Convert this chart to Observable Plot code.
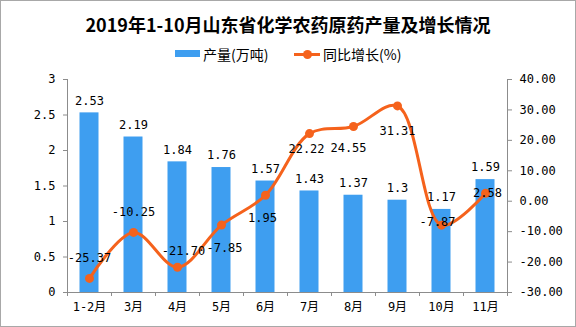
<!DOCTYPE html>
<html>
<head>
<meta charset="utf-8">
<script src="https://cdn.jsdelivr.net/npm/d3@7"></script>
<script src="https://cdn.jsdelivr.net/npm/@observablehq/plot@0.6"></script>
<style>
  html, body { margin: 0; padding: 0; background: #fff; }
  #wrap { position: relative; width: 576px; height: 327px; overflow: hidden; background: #fff; }
  #title { position: absolute; left: 0; top: 13px; width: 576px; text-align: center;
           font: bold 18px "Noto Sans CJK SC", sans-serif; color: #000; line-height: 22px; }
  #legend { position: absolute; left: 0; top: 45px; width: 576px; height: 20px;
            font: 14px "Noto Sans CJK SC", sans-serif; color: #000; }
  .sw { position: absolute; }
  .lt { position: absolute; top: 0; line-height: 19px; white-space: nowrap; }
  #chart { position: absolute; left: 0; top: 70px; }
  #border { position: absolute; left: 0; top: 0; right: 0; bottom: 0; border: 1px solid #a8a8a8;
            box-sizing: border-box; pointer-events: none; }
</style>
</head>
<body>
<div id="wrap">
  <div id="title">2019年1-10月山东省化学农药原药产量及增长情况</div>
  <div id="legend">
    <div class="sw" style="left:175px;top:5px;width:25px;height:7px;background:#3E9EF0;"></div>
    <div class="lt" style="left:203px;">产量(万吨)</div>
    <div class="sw" style="left:294px;top:8px;width:26px;height:3px;background:#F5621C;"></div>
    <div class="sw" style="left:302.5px;top:5px;width:9px;height:9px;border-radius:50%;background:#F5621C;"></div>
    <div class="lt" style="left:323px;">同比增长(%)</div>
  </div>
  <div id="chart"></div>
  <div id="border"></div>
</div>
<script>
const categories = ["1-2月", "3月", "4月", "5月", "6月", "7月", "8月", "9月", "10月", "11月"];
const output = [2.53, 2.19, 1.84, 1.76, 1.57, 1.43, 1.37, 1.3, 1.17, 1.59];
const growth = [-25.37, -10.25, -21.70, -7.85, 1.95, 22.22, 24.55, 31.31, -7.87, 2.58];
const growthText = ["-25.37", "-10.25", "-21.70", "-7.85", "1.95", "22.22", "24.55", "31.31", "-7.87", "2.58"];
const leftTicks = [0, 0.5, 1, 1.5, 2, 2.5, 3];
const rightTicks = [-30, -20, -10, 0, 10, 20, 30, 40];

// label offsets (styling only)
const growthDx = [0, 0, 6, 3, -3, -3, -5, 0, -4, 2];
const growthDy = [-20, -20, -16, 23, 23, 16, 22, 25, -3, 0];

const leftMax = 3, rMin = -30, rMax = 40;
const toLeft = v => (v - rMin) / (rMax - rMin) * leftMax;
const fromLeft = y => Math.round(y * (rMax - rMin) / leftMax + rMin);

const data = categories.map((c, i) => ({cat: c, output: output[i], growth: growth[i], gtext: growthText[i], i}));

const numFont = "'DejaVu Sans Mono', 'Noto Sans CJK SC', monospace";
const axisColor = "#8c8c8c";
const half = (576 - 67 - 69) / categories.length / 2;

const marks = [
  Plot.barY(data, {x: "cat", y: "output", fill: "#3E9EF0", insetLeft: 12.5, insetRight: 12.5}),
  Plot.ruleY([0], {stroke: axisColor}),
  Plot.ruleX([categories[0]], {dx: -half, stroke: axisColor}),
  Plot.ruleX([categories[categories.length - 1]], {dx: half, stroke: axisColor}),
  Plot.ruleX(categories, {x: d => d, y1: 0, y2: -0.056, dx: -half, stroke: axisColor}),
  Plot.ruleX([categories[categories.length - 1]], {x: d => d, y1: 0, y2: -0.056, dx: half, stroke: axisColor}),
  Plot.axisY({anchor: "left", ticks: leftTicks, tickFormat: d => String(d), tickSize: 4, tickPadding: 8,
              stroke: axisColor, fill: "#000", fontSize: 12, label: null}),
  Plot.axisY({anchor: "right", ticks: rightTicks.map(toLeft), tickFormat: d => fromLeft(d).toFixed(2),
              tickSize: 4, tickPadding: 8, stroke: axisColor, fill: "#000", fontSize: 12, label: null}),
  Plot.axisX({anchor: "bottom", tickSize: 0, tickPadding: 10, fill: "#000", fontSize: 12, label: null}),
  Plot.line(data, {x: "cat", y: d => toLeft(d.growth), stroke: "#F5621C", strokeWidth: 3, curve: "catmull-rom"}),
  Plot.dot(data, {x: "cat", y: d => toLeft(d.growth), r: 4.5, fill: "#F5621C", stroke: null}),
  Plot.text(data, {x: "cat", y: "output", text: d => String(d.output), dy: -12, fill: "#000", fontSize: 12}),
  ...data.map((d, i) => Plot.text([d], {x: "cat", y: e => toLeft(e.growth), text: "gtext",
              dx: growthDx[i], dy: growthDy[i], fill: "#000", fontSize: 12}))
];

const chart = Plot.plot({
  width: 576,
  height: 257,
  marginTop: 9,
  marginBottom: 35,
  marginLeft: 67,
  marginRight: 69,
  x: {type: "band", domain: categories, padding: 0},
  y: {domain: [0, leftMax]},
  style: {fontFamily: numFont, fontSize: "12px", color: "#000", background: "transparent", overflow: "visible"},
  marks
});
document.getElementById("chart").appendChild(chart);
</script>
</body>
</html>
